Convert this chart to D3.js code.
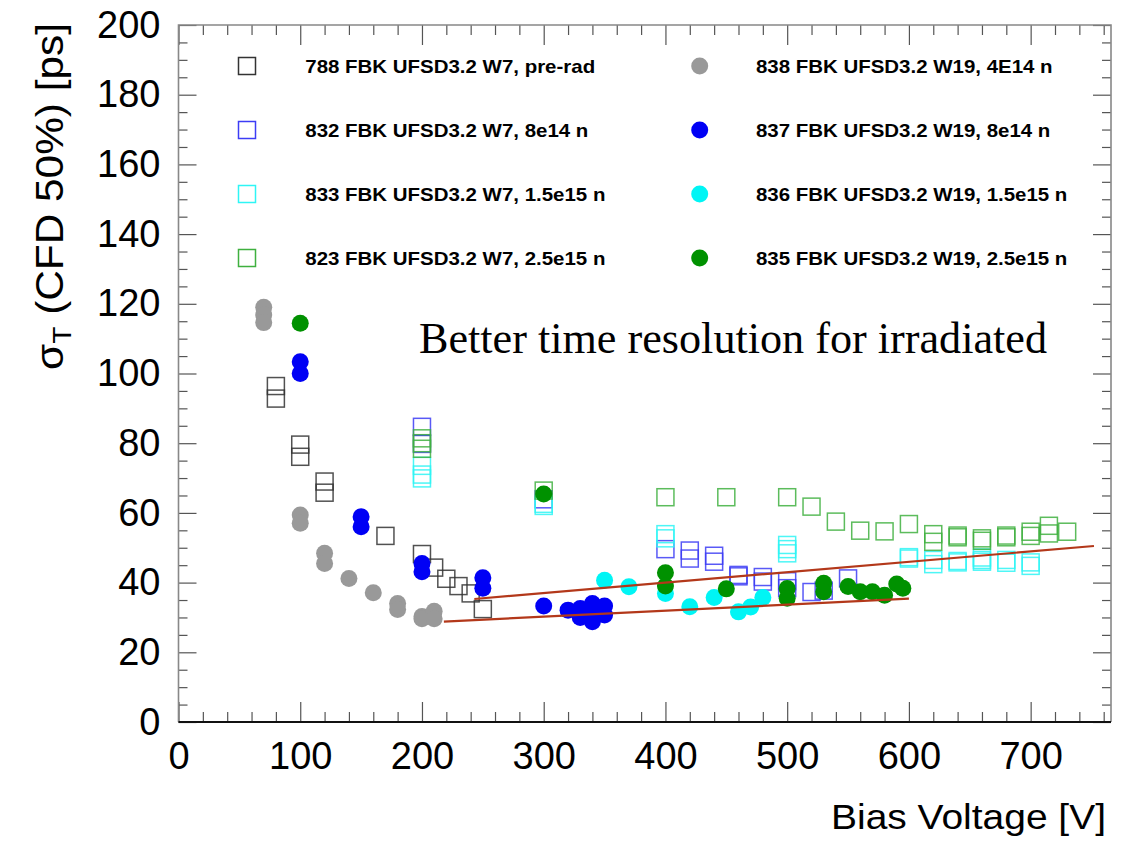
<!DOCTYPE html>
<html><head><meta charset="utf-8">
<script src="https://cdn.jsdelivr.net/npm/d3@7"></script>
<style>body{margin:0;background:#fff}</style>
</head><body>
<svg id="c" width="1121" height="841"></svg>
<script>
// ---------- data ----------
const xTickValues = [0,100,200,300,400,500,600,700];
const xTickLabels = ["0","100","200","300","400","500","600","700"];
const yTickValues = [0,20,40,60,80,100,120,140,160,180,200];
const yTickLabels = ["0","20","40","60","80","100","120","140","160","180","200"];

// open squares (W7)
const v788 = [[80,96.4],[80,92.8],[100,79.6],[100,76.1],[120,69.0],[120,65.8],[170,53.4],[200,48.2],[210,44.3],[220,41.1],[230,39.0],[240,36.9],[250,32.4]];
const v832 = [[200,84.7],[200,79.8],[300,63.9],[400,49.6],[420,49.2],[420,46.9],[440,47.7],[440,46.0],[460,42.2],[460,41.8],[480,41.6],[480,40.3],[500,40.4],[500,38.4],[520,37.3],[530,37.7],[550,41.2]];
const v833 = [[200,73.5],[200,71.0],[200,69.9],[300,62.6],[300,62.0],[400,53.9],[400,52.7],[500,50.8],[500,49.6],[500,48.4],[600,47.3],[600,46.9],[620,46.5],[620,45.3],[640,46.2],[640,45.8],[660,47.2],[660,46.5],[660,46.0],[680,46.5],[680,45.7],[700,45.8],[700,44.8]];
const v823 = [[200,81.4],[200,80.0],[200,78.4],[300,66.4],[400,64.5],[450,64.5],[500,64.5],[520,61.8],[540,57.5],[560,54.9],[580,54.7],[600,56.8],[620,53.9],[620,51.7],[640,53.5],[640,53.0],[660,52.7],[660,52.0],[680,53.5],[680,53.0],[700,54.6],[700,53.4],[715,56.3],[715,54.1],[730,54.6]];
// filled circles (W19)
const v838 = [[70,119.0],[70,116.8],[70,114.6],[100,59.4],[100,57.0],[120,48.4],[120,45.5],[140,41.2],[160,37.1],[180,34.0],[180,32.3],[200,30.3],[200,29.6],[210,31.8],[210,29.6]];
const v837 = [[100,103.4],[100,100.0],[150,58.9],[150,56.0],[200,45.5],[200,43.1],[250,41.4],[250,38.4],[300,33.3],[320,32.1],[330,32.6],[330,30.0],[340,34.0],[340,32.0],[340,28.8],[350,33.3],[350,30.7]];
const v836 = [[350,40.7],[370,38.8],[400,36.9],[420,33.1],[440,35.7],[460,31.6],[470,33.0],[480,35.7]];
const v835 = [[100,114.4],[300,65.4],[400,42.8],[400,39.0],[450,38.2],[500,38.3],[500,35.5],[530,39.8],[530,37.4],[550,38.9],[560,37.4],[570,37.4],[580,36.4],[590,39.6],[595,38.4]];

// linear fits (endpoints)
const fitUpperX = [243, 752], fitUpperY = [35.3, 50.5];
const fitLowerX = [218, 600], fitLowerY = [28.8, 35.4];

const legendLabelsW7 = ["788 FBK UFSD3.2 W7, pre-rad","832 FBK UFSD3.2 W7, 8e14 n","833 FBK UFSD3.2 W7, 1.5e15 n","823 FBK UFSD3.2 W7, 2.5e15 n"];
const legendLabelsW19 = ["838 FBK UFSD3.2 W19, 4E14 n","837 FBK UFSD3.2 W19, 8e14 n","836 FBK UFSD3.2 W19, 1.5e15 n","835 FBK UFSD3.2 W19, 2.5e15 n"];
const annotation = "Better time resolution for irradiated";

// ---------- styles ----------
const squareSeries = [
  {data: v788, color: "#333333"},
  {data: v832, color: "#3c3cf5"},
  {data: v833, color: "#2ef5f5"},
  {data: v823, color: "#3fb03f"}
];
const circleSeries = [
  {data: v838, color: "#999999"},
  {data: v837, color: "#0000f5"},
  {data: v836, color: "#00f5f5"},
  {data: v835, color: "#009100"}
];

const svg = d3.select("#c");
const L = 178.5, R = 1111, T = 25, B = 722;
const x = d3.scaleLinear().domain([0, 766]).range([L, R]);
const y = d3.scaleLinear().domain([0, 200]).range([B, T]);
const minorX = d3.range(0, 767, 20).filter(v => v % 100 !== 0);
const minorY = d3.range(0, 201, 5).filter(v => v % 20 !== 0);

// ---------- ticks ----------
function styleAxis(g){ g.select(".domain").remove(); g.selectAll("line").attr("stroke","#555").attr("stroke-width",1.2); }
const tickFont = "'Liberation Sans', Arial, sans-serif";

svg.append("g").attr("transform",`translate(0,${B})`)
  .call(d3.axisBottom(x).tickValues(minorX).tickSize(-10).tickFormat("")).call(styleAxis);
svg.append("g").attr("transform",`translate(0,${B})`)
  .call(d3.axisBottom(x).tickValues(xTickValues).tickSize(-20).tickPadding(20).tickFormat((d,i)=>xTickLabels[i]))
  .call(styleAxis)
  .call(g=>g.selectAll("text").attr("fill","#000").style("font-family",tickFont).style("font-size","38px"));
svg.append("g").attr("transform",`translate(0,${T})`)
  .call(d3.axisTop(x).tickValues(minorX).tickSize(-10).tickFormat("")).call(styleAxis);
svg.append("g").attr("transform",`translate(0,${T})`)
  .call(d3.axisTop(x).tickValues(xTickValues).tickSize(-20).tickFormat("")).call(styleAxis);

svg.append("g").attr("transform",`translate(${L},0)`)
  .call(d3.axisLeft(y).tickValues(minorY).tickSize(-9).tickFormat("")).call(styleAxis);
svg.append("g").attr("transform",`translate(${L},0)`)
  .call(d3.axisLeft(y).tickValues(yTickValues).tickSize(-18).tickPadding(18).tickFormat((d,i)=>yTickLabels[i]))
  .call(styleAxis)
  .call(g=>g.selectAll("text").attr("fill","#000").style("font-family",tickFont).style("font-size","38px"));
svg.append("g").attr("transform",`translate(${R},0)`)
  .call(d3.axisRight(y).tickValues(minorY).tickSize(-9).tickFormat("")).call(styleAxis);
svg.append("g").attr("transform",`translate(${R},0)`)
  .call(d3.axisRight(y).tickValues(yTickValues).tickSize(-18).tickFormat("")).call(styleAxis);

// frame
svg.append("path").attr("d",`M${L},${B}V${T}H${R}V${B}`).attr("fill","none").attr("stroke","#888").attr("stroke-width",1.6);
svg.append("line").attr("x1",L).attr("x2",R).attr("y1",B).attr("y2",B).attr("stroke","#111").attr("stroke-width",1.8);

// ---------- data marks ----------
const SQ = 17, RAD = 8.5;
const plot = svg.append("g");
squareSeries.forEach(s=>{
  plot.append("g").selectAll("rect").data(s.data).join("rect")
    .attr("x",d=>x(d[0])-SQ/2).attr("y",d=>y(d[1])-SQ/2)
    .attr("width",SQ).attr("height",SQ)
    .attr("fill","none").attr("stroke",s.color).attr("stroke-width",1.5).attr("stroke-opacity",0.85);
});
circleSeries.forEach(s=>{
  plot.append("g").selectAll("circle").data(s.data).join("circle")
    .attr("cx",d=>x(d[0])).attr("cy",d=>y(d[1])).attr("r",RAD).attr("fill",s.color);
});

// fits
const line = d3.line().x(d=>x(d[0])).y(d=>y(d[1]));
[[fitUpperX,fitUpperY],[fitLowerX,fitLowerY]].forEach(([fx,fy])=>{
  plot.append("path").attr("d",line(fx.map((v,i)=>[v,fy[i]])))
    .attr("fill","none").attr("stroke","#b3381a").attr("stroke-width",2.2);
});

// ---------- legend ----------
const rowY = [66,130,194,258];
const legFont = "'Liberation Sans', Arial, sans-serif";
const leg = svg.append("g");
function legText(tx, ty, label){
  const t = leg.append("text").attr("x",tx).attr("y",ty+6.7).text(label)
    .style("font-family",legFont).style("font-weight","bold").style("font-size","18.6px").attr("fill","#000");
  const w = t.node().getComputedTextLength();
  t.attr("textLength", w*1.1).attr("lengthAdjust","spacingAndGlyphs");
}
legendLabelsW7.forEach((lab,i)=>{
  leg.append("rect").attr("x",247-SQ/2).attr("y",rowY[i]-SQ/2).attr("width",SQ).attr("height",SQ)
    .attr("fill","none").attr("stroke",squareSeries[i].color).attr("stroke-width",1.5);
  legText(305.3, rowY[i], lab);
});
legendLabelsW19.forEach((lab,i)=>{
  leg.append("circle").attr("cx",699.7).attr("cy",rowY[i]).attr("r",RAD).attr("fill",circleSeries[i].color);
  legText(755.9, rowY[i], lab);
});

// ---------- texts ----------
svg.append("text").attr("x",419).attr("y",353).text(annotation)
  .style("font-family","'Liberation Serif','Times New Roman',serif").style("font-size","44px")
  .attr("fill","#000").attr("textLength",628).attr("lengthAdjust","spacingAndGlyphs");

svg.append("text").attr("x",1106).attr("y",829).attr("text-anchor","end").text("Bias Voltage [V]")
  .style("font-family",tickFont).style("font-size","35px").attr("fill","#000")
  .attr("textLength",275).attr("lengthAdjust","spacingAndGlyphs");

const yt = svg.append("text").attr("transform","translate(63,370) rotate(-90)")
  .style("font-family",tickFont).style("font-size","39px").attr("fill","#000")
  .attr("textLength",347).attr("lengthAdjust","spacingAndGlyphs");
yt.append("tspan").text("σ");
yt.append("tspan").text("T").style("font-size","26px").attr("dy",8);
yt.append("tspan").text(" (CFD 50%) [ps]").attr("dy",-8);
</script>
</body></html>
